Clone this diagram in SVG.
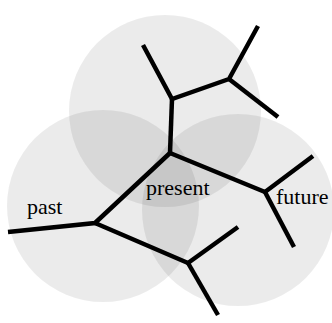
<svg xmlns="http://www.w3.org/2000/svg" width="332" height="323" viewBox="0 0 332 323">
<style>
.c{fill:#000;fill-opacity:0.08;stroke:none}
.e{stroke:#000;stroke-width:4.5;fill:none;stroke-linecap:butt;stroke-linejoin:miter}
.t{font-family:"Liberation Serif","Times New Roman",serif;font-size:22px;fill:#000}
</style>
<rect width="332" height="323" fill="#fff"/>
<g id="circles">
<circle id="circle-top" class="c" cx="165" cy="111" r="96"/>
<circle id="circle-left" class="c" cx="103" cy="206" r="96"/>
<circle id="circle-right" class="c" cx="238" cy="210" r="96"/>
</g>
<g id="connectors">
<polyline class="e" points="143,45 172,99 229,79 258,26"/>
<line class="e" x1="229" y1="79" x2="278" y2="117"/>
<line class="e" x1="172" y1="99" x2="170" y2="153"/>
<polyline class="e" points="170,153 265,192 313,156"/>
<line class="e" x1="265" y1="192" x2="294" y2="247"/>
<polyline class="e" points="170,153 95,223 8,232"/>
<polyline class="e" points="95,223 188,263 238,227"/>
<line class="e" x1="188" y1="263" x2="218" y2="315"/>
</g>
<g id="node-past"><text class="t" x="27" y="214">past</text></g>
<g id="node-present"><text class="t" x="146" y="195">present</text></g>
<g id="node-future"><text class="t" x="276" y="204">future</text></g>
</svg>
